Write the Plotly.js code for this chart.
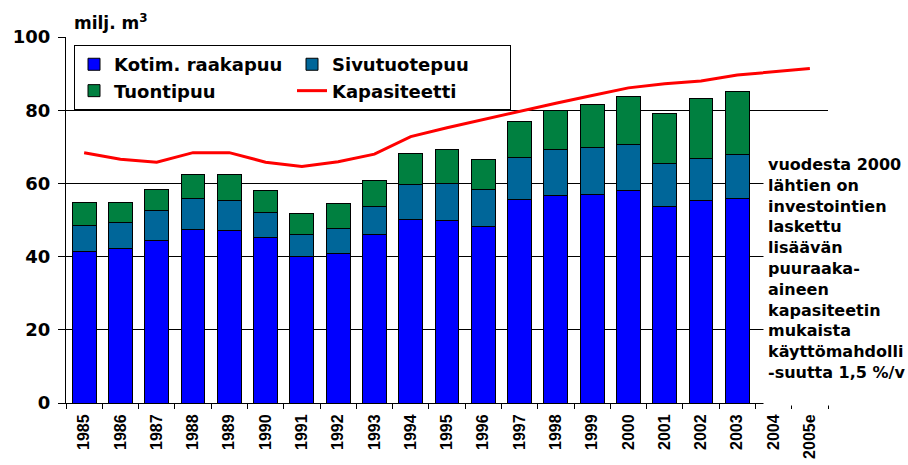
<!DOCTYPE html>
<html><head><meta charset="utf-8">
<script src="https://cdn.plot.ly/plotly-3.0.1.min.js"></script>
<style>html,body{margin:0;padding:0;background:#fff}</style>
</head><body><div id="chart" style="width:908px;height:465px"></div>
<script>
const years = ['1985','1986','1987','1988','1989','1990','1991','1992','1993','1994','1995','1996','1997','1998','1999','2000','2001','2002','2003','2004','2005e'];
const kotim = [41.3,42.3,44.4,47.3,47.0,45.1,40.1,40.9,46.1,50.2,49.8,48.3,55.6,56.8,57.1,58.1,53.7,55.3,55.8,null,null];
const sivu = [7.2,6.9,8.1,8.6,8.2,7.0,5.9,6.7,7.5,9.6,10.2,10.1,11.6,12.4,12.7,12.6,11.7,11.6,12.1,null,null];
const tuonti = [6.2,5.5,5.9,6.4,7.1,6.0,5.7,6.8,7.1,8.4,9.2,8.0,9.7,10.8,11.8,13.1,13.6,16.2,17.2,null,null];
const kapasiteetti = [68.4,66.6,65.8,68.4,68.4,65.8,64.6,65.9,68.0,72.8,75.2,77.5,79.6,81.9,84.0,86.1,87.2,88.0,89.6,90.6,91.4];
const seriesNames = ['Kotim. raakapuu','Sivutuotepuu','Tuontipuu','Kapasiteetti'];
const yTickVals = [0,20,40,60,80,100];
const unitLabel = 'milj. m<sup>3</sup>';
const noteLines = ['vuodesta 2000','lähtien on','investointien','laskettu','lisäävän','puuraaka-','aineen','kapasiteetin','mukaista','käyttömahdolli','-suutta 1,5 %/v'];

const BOLD = {family:'DejaVu Sans', size:18, color:'#000', weight:'bold'};
const barLine = {color:'#000', width:1};

const data = [
  {type:'bar', name:seriesNames[0], x:years, y:kotim, marker:{color:'#0000FF', line:barLine}, legendgroup:'a'},
  {type:'bar', name:seriesNames[1], x:years, y:sivu, marker:{color:'#006699', line:barLine}, legendgroup:'b'},
  {type:'bar', name:seriesNames[2], x:years, y:tuonti, marker:{color:'#008040', line:barLine}, legendgroup:'a'},
  {type:'scatter', mode:'lines', name:seriesNames[3], x:years, y:kapasiteetti, line:{color:'#FF0000', width:3}, legendgroup:'b'}
];

const layout = {
  width:908, height:465,
  margin:{l:66, r:80, t:37, b:62},
  paper_bgcolor:'#fff', plot_bgcolor:'#fff',
  barmode:'stack', bargap:0.34,
  font:BOLD,
  showlegend:true,
  legend:{
    orientation:'h', traceorder:'grouped', tracegroupgap:0, entrywidth:173, entrywidthmode:'pixels',
    x:0.0105, y:0.978, xanchor:'left', yanchor:'top',
    bordercolor:'#000', borderwidth:1, bgcolor:'#fff',
    font:{family:'DejaVu Sans', size:18, color:'#000', weight:'bold'}
  },
  xaxis:{
    type:'category', tickson:'boundaries', ticks:'outside', ticklen:5, tickcolor:'#000', tickwidth:1,
    tickangle:-90, showline:true, linecolor:'#000', linewidth:1, showgrid:false, zeroline:false,
    tickfont:{family:'Liberation Sans', size:16, color:'#000', weight:'bold'}, ticklabelstandoff:4
  },
  yaxis:{
    range:[0,100], tickvals:yTickVals, ticks:'outside', ticklen:7, tickcolor:'#000', tickwidth:1,
    showline:true, linecolor:'#000', linewidth:1, showgrid:true, gridcolor:'#000', gridwidth:1, zeroline:false,
    tickfont:{family:'DejaVu Sans', size:18, color:'#000', weight:'bold'}, ticklabelstandoff:4
  },
  annotations:[
    {xref:'paper', yref:'paper', x:0.0079, y:1, xanchor:'left', yanchor:'bottom', yshift:2,
     text:unitLabel, showarrow:false, font:{family:'DejaVu Sans', size:17, color:'#000', weight:'bold'}},
    {xref:'paper', yref:'paper', x:0.9147, y:0.6913, xanchor:'left', yanchor:'top',
     width:137, height:246, align:'left', valign:'top', bgcolor:'#fff', borderpad:4,
     text:noteLines.join('<br>'), showarrow:false, font:{family:'DejaVu Sans', size:16, color:'#000', weight:'bold'}}
  ]
};

Plotly.newPlot('chart', data, layout, {displayModeBar:false, staticPlot:true});
</script></body></html>
